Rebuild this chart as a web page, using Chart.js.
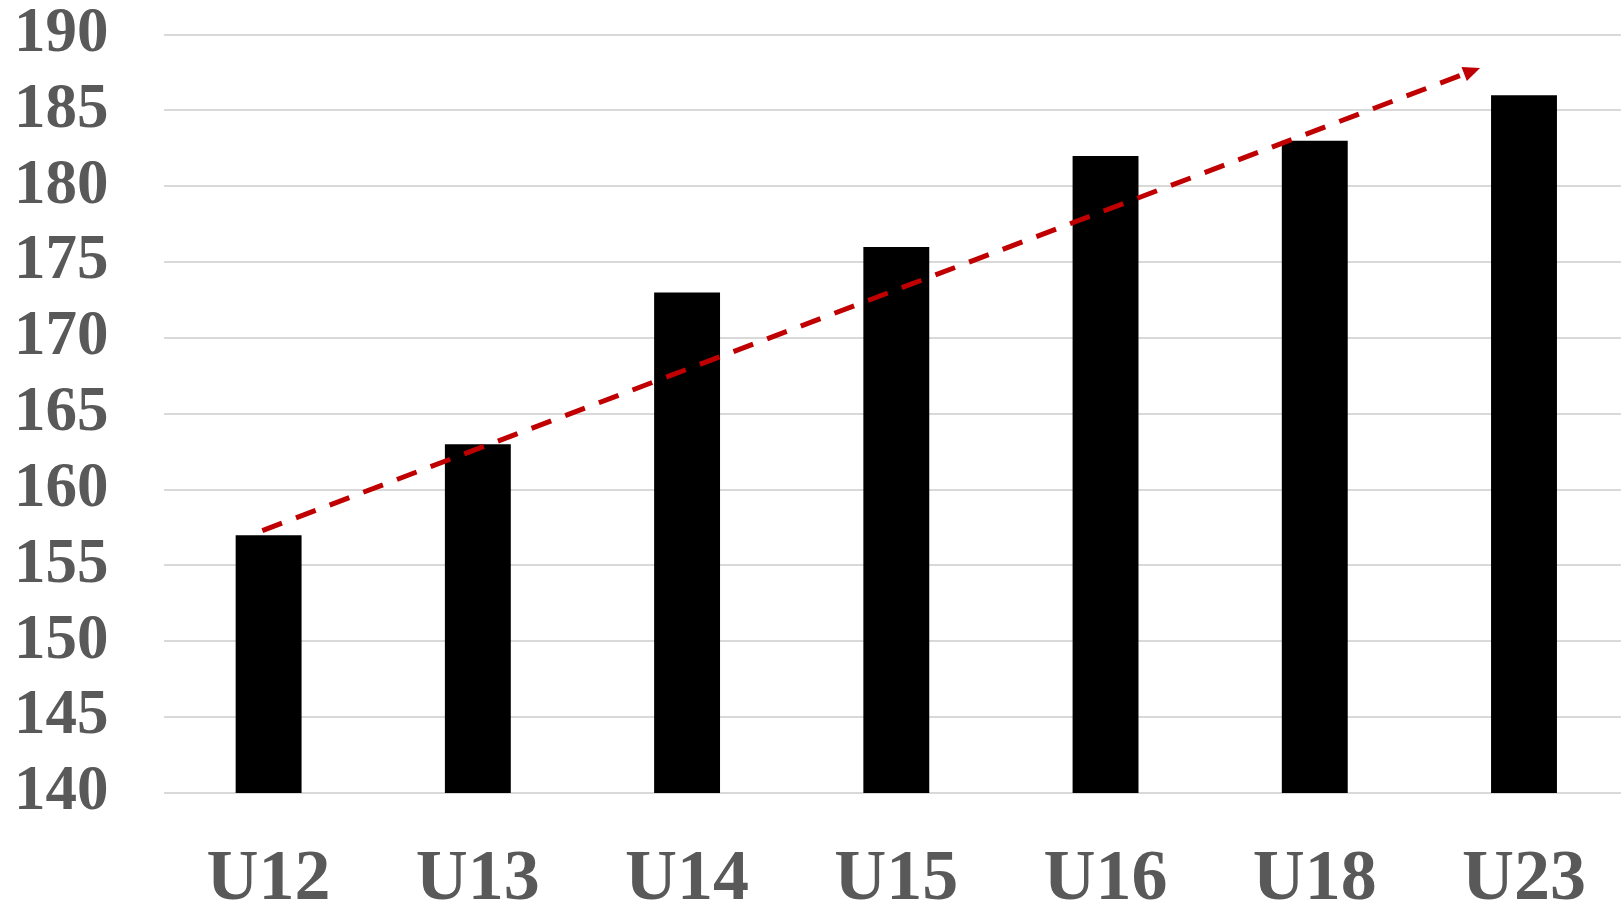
<!DOCTYPE html>
<html>
<head>
<meta charset="utf-8">
<script src="https://cdn.jsdelivr.net/npm/chart.js@4"></script>
<style>
	html, body { margin: 0; padding: 0; background: #fff; overflow: hidden; }
	#wrap { position: relative; width: 1630px; height: 915px; }
</style>
</head>
<body>
<div id="wrap"><canvas id="heightChart"></canvas></div>
<script>
// Age groups and average height (cm)
const groups = [ 'U12', 'U13', 'U14', 'U15', 'U16', 'U18', 'U23' ];
const heights = [ 157, 163, 173, 176, 182, 183, 186 ];
const yTicks = [ 140, 145, 150, 155, 160, 165, 170, 175, 180, 185, 190 ];

// Trend arrow, as [ category index, value ]
const trendFrom = [ -0.03, 157.3 ];
const trendTo = [ 5.79, 187.8 ];

const serif = "'Times New Roman', 'Liberation Serif', Times, serif";

document.addEventListener( 'DOMContentLoaded', function () {
	const trendArrow = {
		id: 'trendArrow',
		afterDatasetsDraw: function ( chart ) {
			const ctx = chart.ctx,
				xs = chart.scales.x,
				ys = chart.scales.y;

			let x1 = xs.getPixelForValue( trendFrom[ 0 ] ),
				y1 = ys.getPixelForValue( trendFrom[ 1 ] ),
				x2 = xs.getPixelForValue( trendTo[ 0 ] ),
				y2 = ys.getPixelForValue( trendTo[ 1 ] );

			let ang = Math.atan2( y2 - y1, x2 - x1 ),
				headLen = 17,
				headHalf = 7.5;
			let bx = x2 - headLen * Math.cos( ang ),
				by = y2 - headLen * Math.sin( ang );

			ctx.save();
			ctx.strokeStyle = '#C00000';
			ctx.fillStyle = '#C00000';
			ctx.lineWidth = 5;
			ctx.setLineDash( [ 21, 15 ] );
			ctx.beginPath();
			ctx.moveTo( x1, y1 );
			ctx.lineTo( bx, by );
			ctx.stroke();

			// arrow head
			ctx.setLineDash( [] );
			ctx.beginPath();
			ctx.moveTo( x2, y2 );
			ctx.lineTo( bx + headHalf * Math.sin( ang ), by - headHalf * Math.cos( ang ) );
			ctx.lineTo( bx - headHalf * Math.sin( ang ), by + headHalf * Math.cos( ang ) );
			ctx.closePath();
			ctx.fill();
			ctx.restore();
		}
	};

	new Chart( 'heightChart', {
		type: 'bar',
		data: {
			labels: groups,
			datasets: [ {
				data: heights,
				backgroundColor: '#000',
				barPercentage: 0.315,
				categoryPercentage: 1
			} ]
		},
		plugins: [ trendArrow ],
		options: {
			responsive: true,
			maintainAspectRatio: false,
			animation: false,
			layout: {
				padding: { left: 14, top: 0, right: 0, bottom: 0 }
			},
			plugins: {
				legend: { display: false },
				tooltip: { enabled: false }
			},
			scales: {
				y: {
					min: 140,
					max: 190,
					afterFit: function ( scale ) {
						scale.width = 150;
					},
					afterBuildTicks: function ( scale ) {
						scale.ticks = yTicks.map( function ( v ) {
							return { value: v };
						} );
					},
					border: { display: false },
					grid: {
						color: '#d9d9d9',
						lineWidth: 2,
						drawTicks: false
					},
					ticks: {
						autoSkip: false,
						padding: 0,
						crossAlign: 'far',
						color: '#595959',
						font: { family: serif, weight: 'bold', size: 63, lineHeight: 1.1 }
					}
				},
				x: {
					afterFit: function ( scale ) {
						scale.height = 122;
					},
					border: { display: false },
					grid: { display: false, drawTicks: false },
					ticks: {
						padding: 44,
						color: '#595959',
						maxRotation: 0,
						autoSkip: false,
						font: { family: serif, weight: 'bold', size: 72 }
					}
				}
			}
		}
	} );
} );
</script>
</body>
</html>
